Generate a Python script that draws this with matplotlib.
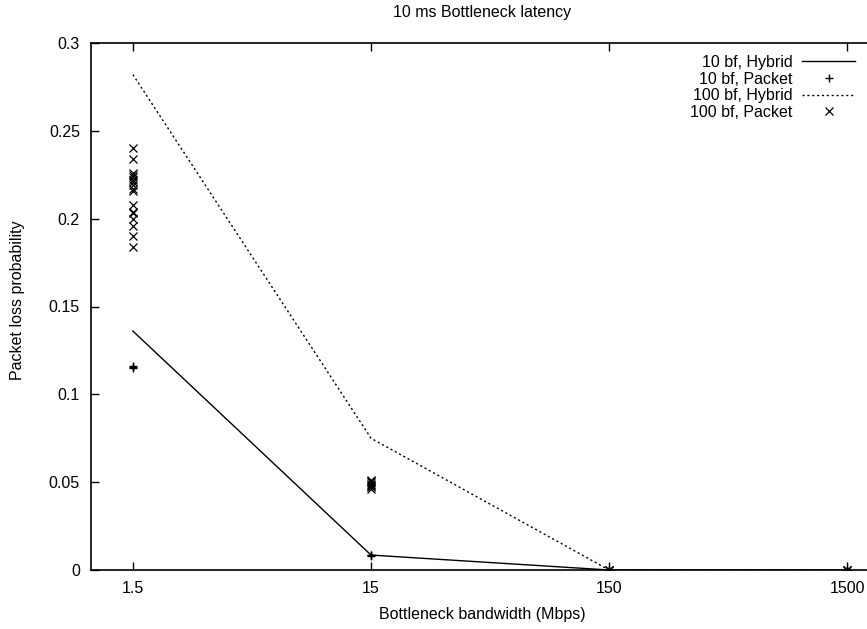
import matplotlib.pyplot as plt
from matplotlib.ticker import FixedLocator, FixedFormatter, NullLocator

plt.rcParams["font.family"] = ["Liberation Sans", "DejaVu Sans"]

bandwidth = [1.5, 15, 150, 1500]

# hybrid model curves
hybrid_10bf  = [0.136, 0.0085, 0.0, 0.0]
hybrid_100bf = [0.282, 0.075, 0.0, 0.0]

# packet-level simulation runs
packet_10bf_x = [1.5, 1.5, 1.5, 15, 15, 15, 150, 150, 1500, 1500]
packet_10bf_y = [0.115, 0.1155, 0.116, 0.0082, 0.0085, 0.0088, 0.0, 0.0, 0.0, 0.0]

packet_100bf_x = [1.5] * 17 + [15] * 8 + [150] * 3 + [1500] * 3
packet_100bf_y = [0.240, 0.234, 0.226, 0.225, 0.224, 0.222, 0.221, 0.219,
                  0.217, 0.216, 0.208, 0.204, 0.203, 0.200, 0.196, 0.190, 0.184,
                  0.046, 0.047, 0.048, 0.0485, 0.049, 0.050, 0.0505, 0.051,
                  0.0, 0.0, 0.0, 0.0, 0.0, 0.0]

x_ticks = [1.5, 15, 150, 1500]
x_tick_labels = ["1.5", "15", "150", "1500"]
y_ticks = [0, 0.05, 0.1, 0.15, 0.2, 0.25, 0.3]
y_tick_labels = ["0", "0.05", "0.1", "0.15", "0.2", "0.25", "0.3"]

W, H = 867, 629
FS = 11.5
fig = plt.figure(figsize=(W / 100, H / 100), dpi=100)
# right border lies just outside the canvas, as in the original
left, right, top, bottom = 91, 877, 43, 570
ax = fig.add_axes([left / W, 1 - bottom / H, (right - left) / W, (bottom - top) / H])

ax.plot(bandwidth, hybrid_10bf, "-", color="black", lw=1.0, label="10 bf, Hybrid")
ax.plot(packet_10bf_x, packet_10bf_y, "+", color="black", ms=6, mew=1.0,
        linestyle="none", label="10 bf, Packet")
ax.plot(bandwidth, hybrid_100bf, color="black", lw=1.0, linestyle=(0, (1.5, 2)),
        label="100 bf, Hybrid")
ax.plot(packet_100bf_x, packet_100bf_y, "x", color="black", ms=5.5, mew=0.9,
        linestyle="none", label="100 bf, Packet")

ax.set_xscale("log")
ax.set_xlim(1.0, 2000)
ax.set_ylim(0, 0.3)
ax.xaxis.set_major_locator(FixedLocator(x_ticks))
ax.xaxis.set_major_formatter(FixedFormatter(x_tick_labels))
ax.xaxis.set_minor_locator(NullLocator())
ax.set_yticks(y_ticks)
ax.set_yticklabels(y_tick_labels)
ax.tick_params(direction="in", length=6, width=1.0, top=True, right=True,
               labelsize=FS, pad=8)
for sp in ax.spines.values():
    sp.set_linewidth(1.2)

fig.text(482 / W, 1 - 12 / H, "10 ms Bottleneck latency", ha="center", va="center",
         fontsize=FS)
fig.text(482 / W, 1 - 614 / H, "Bottleneck bandwidth (Mbps)", ha="center",
         va="center", fontsize=FS)
fig.text(18 / W, 1 - 300 / H, "Packet loss probability", ha="center", va="center",
         rotation=90, fontsize=FS)

fig.legend(loc="upper right", bbox_to_anchor=(863 / W, 1 - 47 / H), frameon=False,
           markerfirst=False, fontsize=FS, handlelength=3.3, labelspacing=0.1,
           handletextpad=0.6, borderpad=0)

fig.savefig("out.png", dpi=100)
